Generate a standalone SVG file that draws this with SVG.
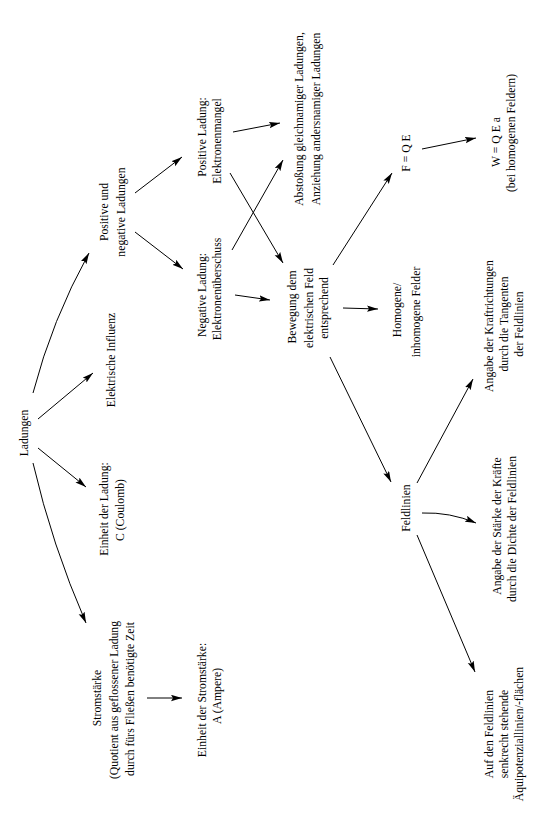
<svg xmlns="http://www.w3.org/2000/svg" width="545" height="834" viewBox="0 0 545 834">
<style>
text{font-family:"Liberation Serif","Times New Roman",serif;font-size:11.7px;fill:#000;text-anchor:middle}
.c path{fill:none;stroke:#000;stroke-width:1}
</style>
<defs>
<marker id="ah" markerUnits="userSpaceOnUse" markerWidth="12" markerHeight="7" refX="11" refY="3.2" orient="auto">
<path d="M0,0 L11,3.2 L0,6.4 L2,3.2 z" fill="#000"/>
</marker>
</defs>
<rect width="545" height="834" fill="#fff"/>
<g class="c" id="connectors">
<path d="M33,393 Q52,320 89,253" marker-end="url(#ah)"/>
<path d="M38,419 L93,373" marker-end="url(#ah)"/>
<path d="M38,448 L86,487" marker-end="url(#ah)"/>
<path d="M33,463 Q52,545 86,623" marker-end="url(#ah)"/>
<path d="M147,698 L182,698" marker-end="url(#ah)"/>
<path d="M135,193 L182,157" marker-end="url(#ah)"/>
<path d="M135,232 L183,269" marker-end="url(#ah)"/>
<path d="M232,250 L283,160" marker-end="url(#ah)"/>
<path d="M230,173 L283,263" marker-end="url(#ah)"/>
<path d="M233,132 L280,123" marker-end="url(#ah)"/>
<path d="M235,295 L270,300" marker-end="url(#ah)"/>
<path d="M333,265 L392,173" marker-end="url(#ah)"/>
<path d="M343,308 L378,309" marker-end="url(#ah)"/>
<path d="M330,357 L391,482" marker-end="url(#ah)"/>
<path d="M422,149 L476,138" marker-end="url(#ah)"/>
<path d="M417,483 L473,379" marker-end="url(#ah)"/>
<path d="M422,513 Q450,512 476,523" marker-end="url(#ah)"/>
<path d="M417,535 L475,672" marker-end="url(#ah)"/>
</g>
<g id="n-ladungen"><text transform="translate(28,433) rotate(-90)">Ladungen</text></g>
<g id="n-influenz"><text transform="translate(115,360) rotate(-90)">Elektrische Influenz</text></g>
<g id="n-posneg">
<text transform="translate(108,212) rotate(-90)">Positive und</text>
<text transform="translate(125,212) rotate(-90)">negative Ladungen</text>
</g>
<g id="n-einheit-ladung">
<text transform="translate(108,509) rotate(-90)">Einheit der Ladung:</text>
<text transform="translate(124,510) rotate(-90)">C (Coulomb)</text>
</g>
<g id="n-stromstaerke">
<text transform="translate(101,698) rotate(-90)">Stromstärke</text>
<text transform="translate(118,700) rotate(-90)">(Quotient aus geflossener Ladung</text>
<text transform="translate(134,699) rotate(-90)">durch fürs Fließen benötigte Zeit</text>
</g>
<g id="n-einheit-strom">
<text transform="translate(206,700) rotate(-90)">Einheit der Stromstärke:</text>
<text transform="translate(221,696) rotate(-90)">A (Ampere)</text>
</g>
<g id="n-negativ">
<text transform="translate(206,295) rotate(-90)">Negative Ladung:</text>
<text transform="translate(221,289) rotate(-90)">Elektronenüberschuss</text>
</g>
<g id="n-positiv">
<text transform="translate(206,137) rotate(-90)">Positive Ladung:</text>
<text transform="translate(221,141) rotate(-90)">Elektronenmangel</text>
</g>
<g id="n-abstossung">
<text transform="translate(303,119) rotate(-90)">Abstoßung gleichnamiger Ladungen,</text>
<text transform="translate(320,119) rotate(-90)">Anziehung andersnamiger Ladungen</text>
</g>
<g id="n-bewegung">
<text transform="translate(296,307) rotate(-90)">Bewegung dem</text>
<text transform="translate(313,308) rotate(-90)">elektrischen Feld</text>
<text transform="translate(328,308) rotate(-90)">entsprechend</text>
</g>
<g id="n-homogen">
<text transform="translate(401,310) rotate(-90)">Homogene/</text>
<text transform="translate(420,312) rotate(-90)">inhomogene Felder</text>
</g>
<g id="n-fqe"><text transform="translate(410,153) rotate(-90)">F = Q E</text></g>
<g id="n-wqea">
<text transform="translate(500,142) rotate(-90)">W = Q E a</text>
<text transform="translate(515,133) rotate(-90)">(bei homogenen Feldern)</text>
</g>
<g id="n-feldlinien"><text transform="translate(410,508) rotate(-90)">Feldlinien</text></g>
<g id="n-kraftrichtungen">
<text transform="translate(493,326) rotate(-90)">Angabe der Kraftrichtungen</text>
<text transform="translate(508,324) rotate(-90)">durch die Tangenten</text>
<text transform="translate(523,324) rotate(-90)">der Feldlinien</text>
</g>
<g id="n-staerke">
<text transform="translate(501,526) rotate(-90)">Angabe der Stärke der Kräfte</text>
<text transform="translate(516,529) rotate(-90)">durch die Dichte der Feldlinien</text>
</g>
<g id="n-aequipotenzial">
<text transform="translate(493,734) rotate(-90)">Auf den Feldlinien</text>
<text transform="translate(508,734) rotate(-90)">senkrecht stehende</text>
<text transform="translate(523,734) rotate(-90)">Äquipotenziallinien/-flächen</text>
</g>
</svg>
